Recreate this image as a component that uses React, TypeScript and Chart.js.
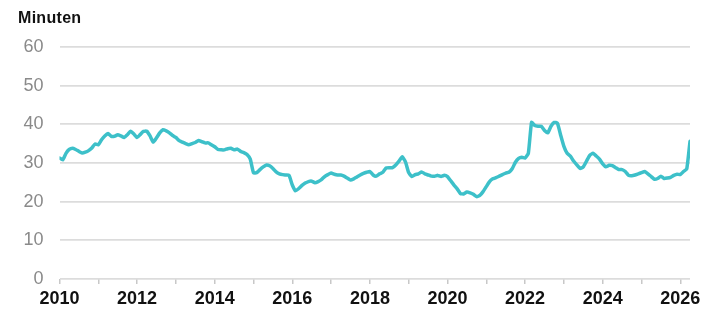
import React, { useEffect, useRef } from "react";
import { Chart, registerables } from "chart.js";

Chart.register(...registerables);

// Monthly values (minutes), January of each year onward
const v2010 = [31.3, 30.8, 32.5, 33.5, 33.8, 33.5, 33.0, 32.6, 32.8, 33.2, 33.9, 34.9];
const v2011 = [34.7, 36.0, 37.0, 37.6, 36.9, 36.9, 37.3, 37.0, 36.6, 37.3, 38.2, 37.5];
const v2012 = [36.6, 37.4, 38.2, 38.2, 37.0, 35.4, 36.5, 37.8, 38.6, 38.3, 37.8, 37.1];
const v2013 = [36.6, 35.8, 35.4, 35.0, 34.7, 35.0, 35.3, 35.8, 35.5, 35.2, 35.2, 34.7];
const v2014 = [34.2, 33.5, 33.4, 33.4, 33.7, 33.8, 33.4, 33.6, 33.0, 32.7, 32.2, 31.0];
const v2015 = [27.5, 27.5, 28.3, 29.0, 29.5, 29.3, 28.6, 27.7, 27.2, 27.0, 26.9, 26.8];
const v2016 = [24.3, 22.8, 23.4, 24.2, 24.8, 25.2, 25.3, 24.9, 25.2, 25.7, 26.5, 27.0];
const v2017 = [27.4, 27.1, 26.9, 26.9, 26.6, 26.1, 25.6, 25.9, 26.4, 26.9, 27.3, 27.6];
const v2018 = [27.8, 26.9, 26.6, 27.2, 27.6, 28.7, 28.8, 28.8, 29.5, 30.5, 31.6, 30.3];
const v2019 = [27.5, 26.5, 27.0, 27.2, 27.7, 27.2, 26.9, 26.6, 26.6, 26.8, 26.5, 26.8];
const v2020 = [26.5, 25.4, 24.3, 23.3, 22.1, 22.0, 22.5, 22.3, 21.9, 21.3, 21.6, 22.6];
const v2021 = [23.9, 25.2, 25.9, 26.2, 26.6, 27.0, 27.4, 27.6, 28.5, 30.2, 31.2, 31.5];
const v2022 = [31.3, 32.5, 40.5, 39.7, 39.5, 39.5, 38.4, 37.8, 39.5, 40.5, 40.3, 37.2];
const v2023 = [34.3, 32.5, 31.8, 30.5, 29.5, 28.6, 29.0, 30.5, 32.0, 32.5, 31.8, 31.0];
const v2024 = [29.8, 29.0, 29.4, 29.3, 28.8, 28.3, 28.3, 27.8, 26.8, 26.7, 26.9, 27.2];
const v2025 = [27.5, 27.8, 27.2, 26.5, 25.8, 26.0, 26.6, 26.0, 26.1, 26.3, 26.8, 27.1];
const v2026 = [27.0, 27.8, 28.5, 35.6];

const startYear = 2010;
const monthly = [
  ...v2010, ...v2011, ...v2012, ...v2013, ...v2014, ...v2015, ...v2016, ...v2017,
  ...v2018, ...v2019, ...v2020, ...v2021, ...v2022, ...v2023, ...v2024, ...v2025, ...v2026,
];
const xTickYears = [
  2010, 2011, 2012, 2013, 2014, 2015, 2016, 2017, 2018,
  2019, 2020, 2021, 2022, 2023, 2024, 2025, 2026,
];
const yTicks = [0, 10, 20, 30, 40, 50, 60];
const yTitle = "Minuten";

export default function App() {
  const ref = useRef<HTMLCanvasElement | null>(null);

  useEffect(() => {
    if (!ref.current) return;
    const points = monthly.map((v, i) => ({ x: startYear + i / 12, y: v }));
    const chart = new Chart(ref.current, {
      type: "line",
      data: {
        datasets: [
          {
            data: points,
            borderColor: "#3dc0c9",
            borderWidth: 3.5,
            pointRadius: 0,
            tension: 0.15,
            borderJoinStyle: "round",
            borderCapStyle: "round",
          },
        ],
      },
      options: {
        animation: false,
        responsive: false,
        maintainAspectRatio: false,
        layout: { padding: { left: 0, right: 18, top: 47, bottom: 0 } },
        plugins: { legend: { display: false }, tooltip: { enabled: false } },
        scales: {
          x: {
            type: "linear",
            min: startYear,
            max: startYear + (monthly.length - 1) / 12,
            afterBuildTicks: (scale: any) => {
              scale.ticks = xTickYears.map((v) => ({ value: v }));
            },
            afterFit: (scale: any) => {
              scale.height = 32;
            },
            border: { display: false },
            grid: {
              drawOnChartArea: false,
              drawTicks: true,
              tickLength: 5,
              color: "#c8c8c8",
              lineWidth: 1.5,
            },
            ticks: {
              autoSkip: false,
              maxRotation: 0,
              padding: 4,
              color: "#111111",
              font: { family: "Liberation Sans", size: 18, weight: "bold" },
              callback: (v: any) => (Number(v) % 2 === 0 ? String(v) : ""),
            },
          },
          y: {
            min: 0,
            max: 60,
            afterBuildTicks: (scale: any) => {
              scale.ticks = yTicks.map((v) => ({ value: v }));
            },
            afterFit: (scale: any) => {
              scale.width = 59.5;
            },
            border: { display: false },
            grid: {
              drawTicks: false,
              color: "#dcdcdc",
              lineWidth: 1.8,
            },
            ticks: {
              padding: 16,
              color: "#8a8a8a",
              font: { family: "Liberation Sans", size: 18 },
            },
          },
        },
      },
    });
    return () => chart.destroy();
  }, []);

  return (
    <div style={{ position: "fixed", left: 0, top: 0, width: 708, height: 311, background: "#ffffff" }}>
      <div
        style={{
          position: "absolute",
          left: 18,
          top: 9,
          fontFamily: "Liberation Sans",
          fontWeight: "bold",
          fontSize: 16,
          color: "#111111",
          letterSpacing: 0.3,
        }}
      >
        {yTitle}
      </div>
      <canvas ref={ref} width={708} height={311} style={{ display: "block" }} />
    </div>
  );
}
